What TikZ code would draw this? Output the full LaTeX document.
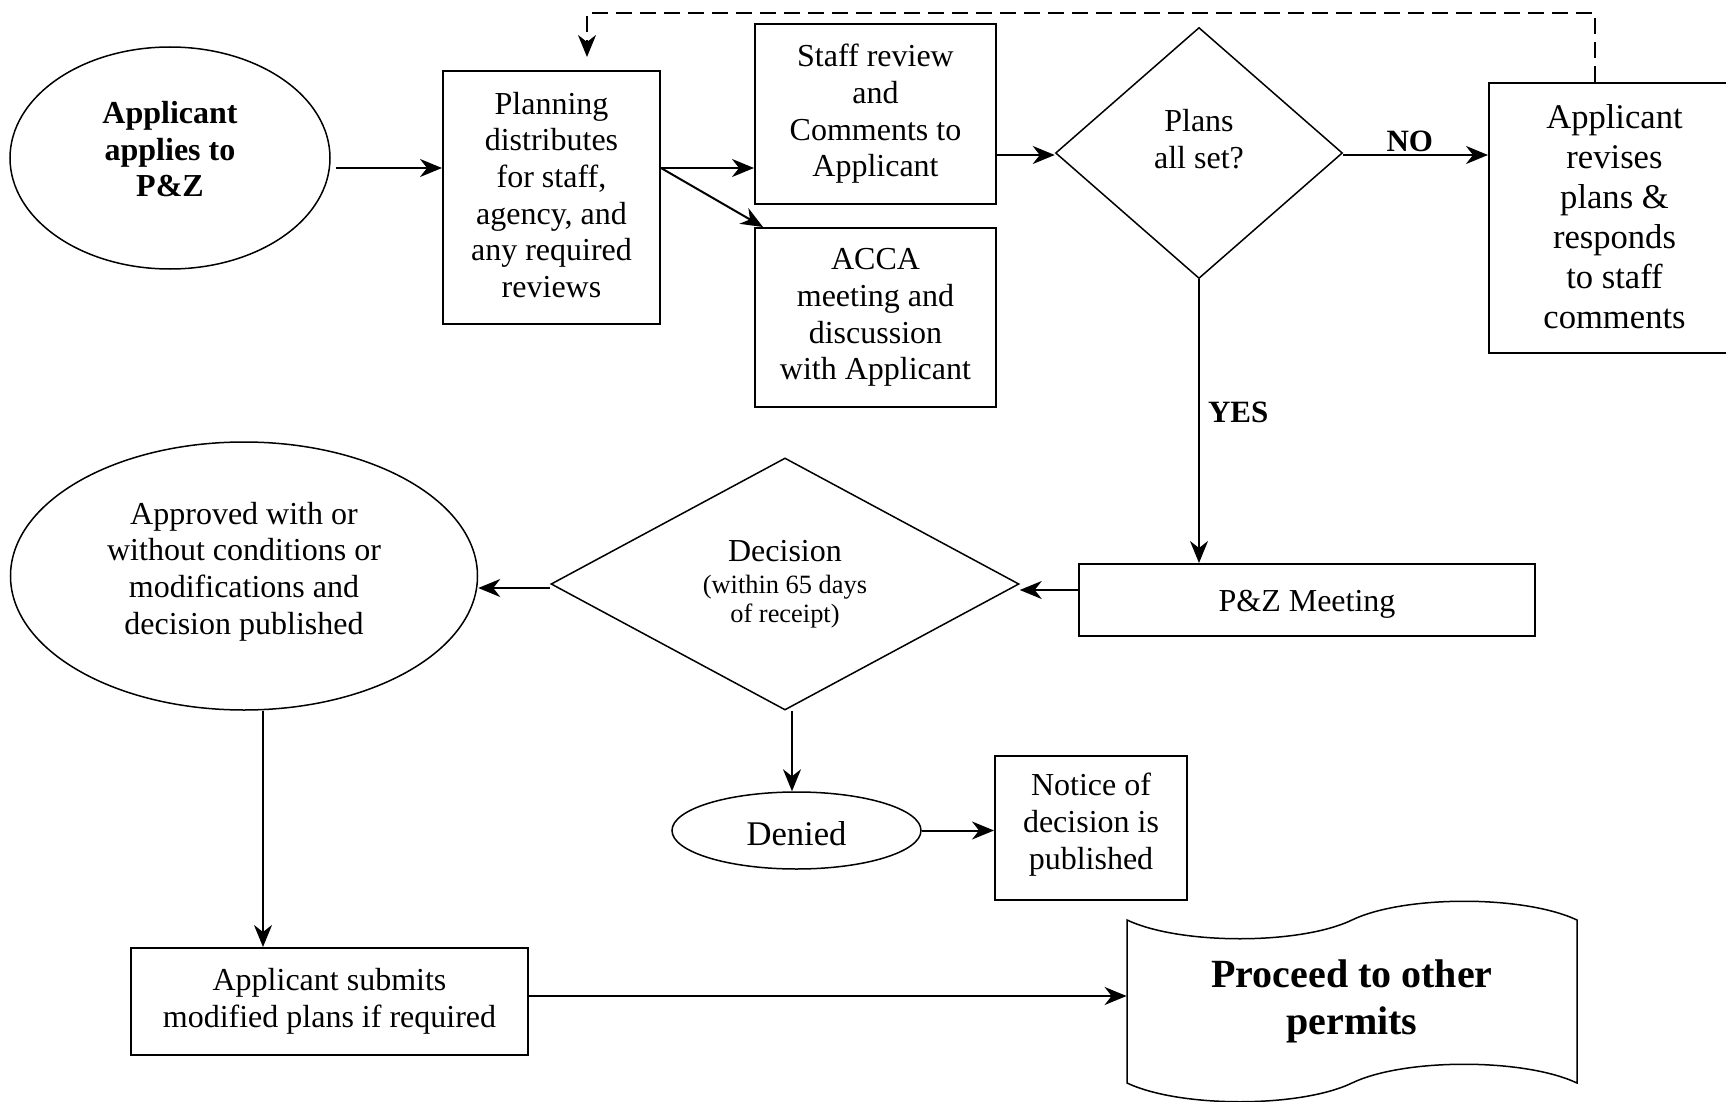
\documentclass[tikz,border=0pt]{standalone}
\usepackage{fontspec}
\setmainfont{Liberation Serif}
\usetikzlibrary{arrows.meta,shapes.geometric,calc}
\newcommand{\dn}[1]{\rule[-#1]{0pt}{#1}}
\begin{document}
\begin{tikzpicture}[x=0.5pt,y=-0.5pt,
  txt/.style={font=\fontsize{16}{18.35}\selectfont, align=center, inner sep=0pt},
  box/.style={txt, draw, line width=1pt, rectangle},
  ell/.style={txt, draw, line width=0.75pt, ellipse},
  dia/.style={txt, draw, line width=0.75pt, diamond},
  arr/.style={line width=1pt, -{Stealth[length=11pt,width=9pt,inset=3.5pt]}},
  lbl/.style={font=\bfseries\fontsize{15.5}{18}\selectfont, inner sep=0pt},
]
\fill[white] (0,0) rectangle (1726,1102);
\useasboundingbox (0,0) rectangle (1726,1102);

% nodes
\node[ell, font=\bfseries\fontsize{16}{18.2}\selectfont, minimum width=160pt, minimum height=111pt] (app) at (170,158) {Applicant\\applies to\\P\&Z\dn{9pt}};
\node[box, minimum width=108.5pt, minimum height=126.5pt] (plan) at (551.5,197.5) {Planning\\distributes\\for staff,\\agency, and\\any required\\reviews\dn{2.8pt}};
\node[box, minimum width=120.5pt, minimum height=90pt] (staff) at (875.5,114) {Staff review\\and\\Comments to\\Applicant};
\node[box, minimum width=120.5pt, minimum height=89.5pt] (acca) at (875.5,317.5) {ACCA\\meeting and\\discussion\\with Applicant};
\node[dia, minimum width=143.5pt, minimum height=125.5pt] (plans) at (1199,153) {};
\node[txt] (plansT) at (1199,139) {Plans\\all set?};
\node[box, font=\fontsize{17.3}{20}\selectfont, minimum width=125.5pt, minimum height=135pt] (rev) at (1614.5,218) {Applicant\\revises\\plans \&\\responds\\to staff\\comments\dn{1.6pt}};
\node[box, text height=11.8pt, text depth=0pt, minimum width=228pt, minimum height=36pt] (pz) at (1307,600) {P\&Z Meeting};
\node[dia, font=\fontsize{16}{16}\selectfont, minimum width=234pt, minimum height=126pt] (dec) at (785,584) {Decision\\{\fontsize{13.2}{12}\selectfont (within 65 days}\\[-1.5pt]{\fontsize{13.2}{12}\selectfont of receipt)}};
\node[ell, minimum width=233.5pt, minimum height=134pt] (appr) at (244,576) {Approved with or\\without conditions or\\modifications and\\decision published\dn{7.9pt}};
\node[ell, font=\fontsize{17.3}{20}\selectfont, text height=15.1pt, text depth=0pt, minimum width=124.5pt, minimum height=38.5pt] (den) at (796.5,830.5) {Denied};
\node[box, minimum width=96pt, minimum height=72pt] (notice) at (1091,828) {Notice of\\decision is\\published\dn{6.8pt}};
\node[box, minimum width=198.5pt, minimum height=53.5pt] (sub) at (329.5,1001.5) {Applicant submits\\modified plans if required};
\node[txt, font=\bfseries\fontsize{20}{23.5}\selectfont, minimum width=225pt, minimum height=81.5pt] (proc) at (1352,1001.5) {Proceed to other\\permits};
\begin{scope}[shift={(proc.center)}]
\draw[line width=0.75pt] (-225,-81.5) .. controls (-172,-56.5) and (-52,-56.5) .. (0,-81.5)
  .. controls (52,-106.5) and (172,-106.5) .. (225,-81.5) -- (225,81.5)
  .. controls (172,56.5) and (52,56.5) .. (0,81.5)
  .. controls (-52,106.5) and (-172,106.5) .. (-225,81.5) -- cycle;
\end{scope}

% connectors
\coordinate (r1) at (0,168);
\coordinate (r2) at (0,155);
\coordinate (r3) at (0,590);
\coordinate (r4) at (0,588);
\coordinate (r5) at (0,996);
\coordinate (c5) at (263,0);
\coordinate (c6) at (792,0);
\coordinate (dtop) at (1595,13);
\coordinate (dend) at (587,57);
\draw[arr, shorten <=2.5pt] (app.east |- r1) -- (plan.west |- r1);
\draw[arr] (plan.east |- r1) -- (staff.west |- r1);
\draw[arr] (plan.east |- r1) -- ([xshift=4.5pt]acca.north west);
\draw[arr] (staff.east |- r2) -- (plans.west |- r2);
\draw[arr] (plans.east |- r2) -- (rev.west |- r2) node[lbl, pos=0.46, above=0.9pt] {NO};
\draw[arr] (plans.south) -- (plans.south |- pz.north) node[lbl, pos=0.47, right=4pt] {YES};
\draw[arr] (pz.west |- r3) -- (dec.east |- r3);
\draw[arr] (dec.west |- r4) -- (appr.east |- r4);
\draw[arr] (c6 |- dec.south) -- (c6 |- den.north);
\draw[arr] (den.east) -- (notice.west |- den.east);
\draw[arr] (c5 |- appr.south) -- (c5 |- sub.north);
\draw[arr] (sub.east |- r5) -- (proc.west |- r5);
\draw[arr, dash pattern=on 8pt off 4pt] (rev.north -| dtop) -- (dtop) -| (dend);
\end{tikzpicture}
\end{document}
